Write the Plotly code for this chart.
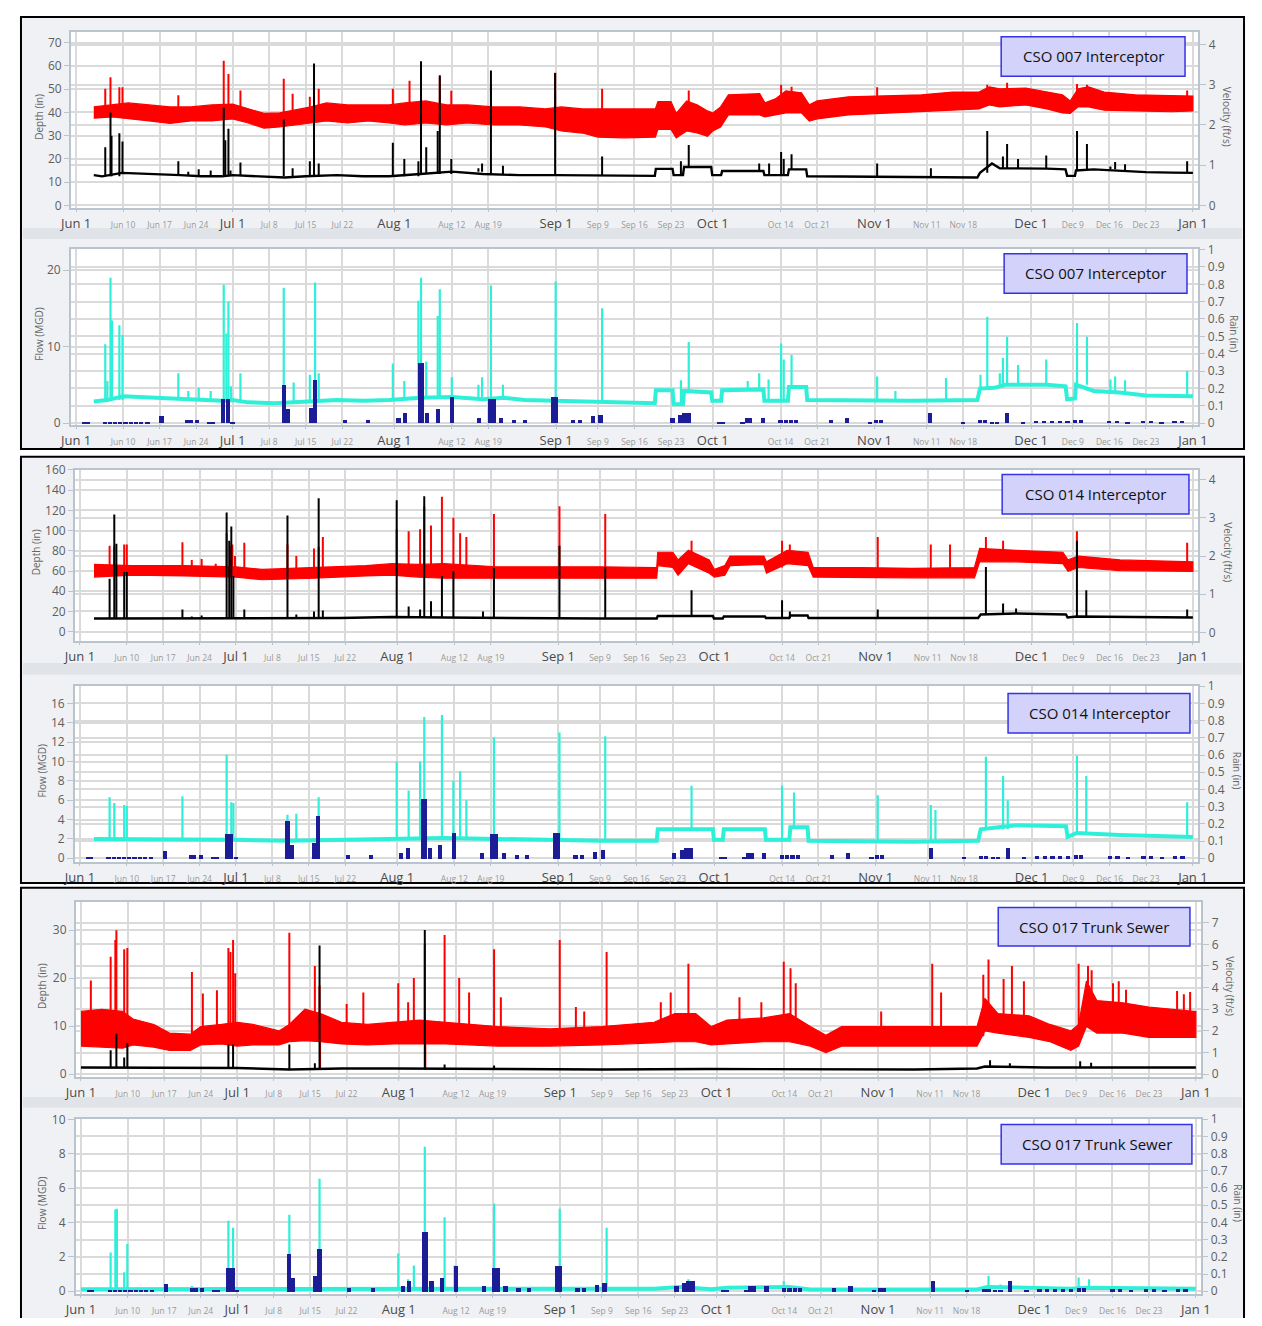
import numpy as np
import pandas as pd
import plotly.graph_objects as go

BASE = pd.Timestamp("2023-06-01")
# page is 1262x1326; the browser adds an 8px body margin, so the figure itself is 16px smaller
PAGE_W, PAGE_H, OFF = 1262, 1326, 8
W, H = PAGE_W - 2 * OFF, PAGE_H - 2 * OFF

# ---------------- tick labels ----------------
tick_dates = ["2023-06-01", "2023-06-10", "2023-06-17", "2023-06-24", "2023-07-01", "2023-07-08",
              "2023-07-15", "2023-07-22", "2023-08-01", "2023-08-12", "2023-08-19", "2023-09-01",
              "2023-09-09", "2023-09-16", "2023-09-23", "2023-10-01", "2023-10-14", "2023-10-21",
              "2023-11-01", "2023-11-11", "2023-11-18", "2023-12-01", "2023-12-09", "2023-12-16",
              "2023-12-23", "2024-01-01"]
tick_labels = ["Jun 1", "Jun 10", "Jun 17", "Jun 24", "Jul 1", "Jul 8", "Jul 15", "Jul 22", "Aug 1",
               "Aug 12", "Aug 19", "Sep 1", "Sep 9", "Sep 16", "Sep 23", "Oct 1", "Oct 14", "Oct 21",
               "Nov 1", "Nov 11", "Nov 18", "Dec 1", "Dec 9", "Dec 16", "Dec 23", "Jan 1"]
month_dates = ["2023-06-01", "2023-07-01", "2023-08-01", "2023-09-01", "2023-10-01", "2023-11-01",
               "2023-12-01", "2024-01-01"]

# ---------------- data (day offset from Jun 1, value) ----------------
# shared rain gauge (in)
rain = [(1.5, 0.008), (2.2, 0.008), (5.5, 0.008), (6.5, 0.008), (7.5, 0.008), (8.5, 0.008), (9.5, 0.008),
        (10.5, 0.008), (11.5, 0.008), (12.5, 0.008), (13.7, 0.008), (16.4, 0.042), (21.3, 0.02), (22.0, 0.02),
        (23.2, 0.02), (25.6, 0.01), (26.3, 0.01), (28.2, 0.14), (29.1, 0.14), (30.0, 0.01), (39.9, 0.22),
        (40.7, 0.08), (45.0, 0.09), (45.8, 0.25), (51.5, 0.02), (56.0, 0.02), (61.8, 0.03), (63.0, 0.06),
        (65.9, 0.345), (66.3, 0.345), (67.3, 0.06), (69.3, 0.08), (72.0, 0.15), (77.3, 0.03), (79.3, 0.14),
        (80.0, 0.14), (81.5, 0.03), (84.0, 0.02), (86.0, 0.02), (91.4, 0.15), (92.0, 0.15), (95.3, 0.02),
        (96.5, 0.02), (99.0, 0.04), (100.5, 0.05), (114.3, 0.03), (115.8, 0.05), (116.6, 0.06),
        (117.4, 0.06), (123.2, 0.01), (124.0, 0.01), (127.7, 0.01), (128.5, 0.03), (129.2, 0.03),
        (131.6, 0.03), (135.0, 0.02), (136.0, 0.02), (137.0, 0.02), (138.0, 0.02), (144.6, 0.02),
        (147.7, 0.03), (152.2, 0.01), (153.3, 0.02), (154.2, 0.02), (163.6, 0.06), (170.0, 0.01),
        (173.3, 0.017), (174.2, 0.017), (175.5, 0.01), (176.5, 0.01), (178.4, 0.06), (181.5, 0.01),
        (184.0, 0.015), (185.5, 0.015), (187.0, 0.015), (188.5, 0.015), (190.0, 0.015), (191.5, 0.02),
        (192.5, 0.02), (198.0, 0.015), (199.5, 0.015), (201.5, 0.01), (204.5, 0.015), (206.0, 0.015),
        (208.0, 0.01), (210.5, 0.015), (212.0, 0.015)]

# ---- CSO 007 Interceptor ----
depth_007 = [(3.4, 13), (5, 12.5), (8.8, 14), (12, 13.8), (16, 13.5), (20, 13), (24, 12.5), (28, 12.5),
             (30, 13), (35, 12.5), (40, 12), (44, 12.5), (50, 13), (55, 12.5), (60, 12.5), (66, 13.5),
             (72, 14.5), (78, 13.5), (85, 13), (92, 13), (100, 13), (110.9, 12.7), (111.1, 15.7),
             (114.3, 15.7), (114.5, 13), (116.3, 13), (116.5, 16.5), (121.7, 16.5), (121.9, 13),
             (123.6, 13), (123.8, 14.8), (131.7, 14.8), (131.9, 13), (136.4, 13), (136.6, 15.5),
             (139.9, 15.5), (140.1, 12.5), (150, 12.3), (160, 12), (172.7, 12), (173.2, 14), (175.5, 18),
             (177, 16), (182, 16), (186, 15.8), (189.6, 15.5), (189.9, 12.7), (191.4, 12.7), (191.6, 15),
             (195, 15.5), (200, 14.8), (205, 14.3), (210, 14.1), (214, 14)]
depth_007_peaks = [(5.6, 25), (6.6, 40), (6.8, 30), (8.3, 31), (8.9, 27.5), (19.6, 19), (21.5, 14.5),
                   (23.5, 15.5), (25.8, 15), (28.3, 42), (28.6, 28), (29.2, 33), (29.6, 15), (31.5, 18.5),
                   (39.8, 37), (41.5, 16), (44.8, 19), (45.6, 61), (46.5, 18), (60.7, 27), (62.9, 20),
                   (65.6, 19), (66.1, 62), (67.1, 25), (69.3, 32), (69.7, 56), (71.9, 20), (77.1, 16),
                   (77.8, 18), (79.5, 58), (81.8, 17), (91.8, 57), (100.8, 21), (115.9, 19), (117.4, 26),
                   (130.9, 18), (132.8, 18), (135.1, 23), (135.6, 20), (137.1, 22), (153.5, 18), (163.8, 16),
                   (174.6, 32), (177.6, 21), (178.4, 26.4), (180.5, 20), (185.9, 21.5), (191.8, 32),
                   (193.7, 26.4), (198.2, 16.7), (199.1, 18.7), (201.0, 17.7), (212.9, 19)]
velocity_007 = [(3.4, 2.17, 2.45), (7, 2.2, 2.5), (10, 2.15, 2.55), (14, 2.1, 2.5), (18, 2.04, 2.45),
                (22, 2.1, 2.45), (26, 2.1, 2.5), (30, 2.15, 2.52), (33, 2.05, 2.4), (36, 1.92, 2.29),
                (39, 1.95, 2.3), (42, 2.0, 2.38), (45, 2.05, 2.45), (48, 2.1, 2.55), (52, 2.05, 2.5),
                (56, 2.1, 2.5), (60, 2.05, 2.5), (63, 2.0, 2.55), (67, 2.05, 2.6), (71, 2.0, 2.5),
                (75, 2.05, 2.5), (80, 2.0, 2.45), (85, 2.0, 2.45), (90, 1.95, 2.4), (93, 1.85, 2.45),
                (97, 1.8, 2.4), (100, 1.7, 2.4), (105, 1.68, 2.41), (111, 1.7, 2.4), (111.5, 1.89, 2.58),
                (114, 1.89, 2.58), (115, 1.68, 2.29), (117, 1.85, 2.6), (119, 1.8, 2.5), (121, 1.72, 2.35),
                (122, 1.85, 2.3), (123.5, 1.95, 2.45), (125, 2.25, 2.75), (131, 2.25, 2.78),
                (132, 2.2, 2.55), (134, 2.25, 2.65), (136, 2.3, 2.85), (139, 2.3, 2.8), (140.5, 2.1, 2.5),
                (142, 2.15, 2.6), (148, 2.25, 2.7), (155, 2.3, 2.72), (162, 2.35, 2.75), (168, 2.37, 2.82),
                (173, 2.4, 2.82), (175, 2.5, 2.95), (177, 2.45, 2.9), (182, 2.5, 2.92), (186, 2.4, 2.82),
                (189, 2.3, 2.75), (190.5, 2.29, 2.6), (192, 2.45, 2.9), (194, 2.45, 2.95),
                (197, 2.37, 2.82), (203, 2.35, 2.75), (210, 2.33, 2.73), (214, 2.35, 2.72)]
velocity_007_peaks = [(5.6, 2.9), (6.6, 3.19), (8.3, 2.94), (8.9, 2.94), (19.6, 2.74), (28.3, 3.6),
                      (29.2, 3.27), (31.5, 2.86), (39.8, 3.15), (41.5, 2.78), (44.8, 2.7), (45.6, 3.07),
                      (46.5, 2.9), (60.7, 2.9), (63.9, 3.1), (66.1, 3.3), (69.7, 3.2), (71.9, 2.85),
                      (79.5, 3.0), (91.8, 3.3), (100.8, 2.9), (117.4, 2.86), (135.1, 3.0), (137.1, 2.95),
                      (153.5, 2.94), (174.6, 3.0), (178.4, 3.05), (191.8, 3.02), (193.7, 3.0), (212.9, 2.86)]
flow_007 = [(3.4, 2.8), (6, 3.0), (9, 3.5), (12, 3.4), (16, 3.2), (20, 3.1), (24, 3.0), (28, 2.9),
            (30, 3.0), (33, 2.7), (38, 2.6), (42, 2.7), (45, 2.9), (50, 3.0), (55, 2.9), (60, 3.0),
            (66, 3.3), (72, 3.4), (78, 3.1), (82, 3.3), (86, 3.0), (92, 2.9), (98, 2.8), (104, 2.7),
            (110.9, 2.6), (111.1, 4.3), (114.3, 4.3), (114.5, 2.45), (116.3, 2.45), (116.5, 4.2),
            (121.7, 4.0), (121.9, 2.9), (123.6, 2.9), (123.8, 4.3), (131.7, 4.4), (131.9, 2.9),
            (136.4, 2.9), (136.6, 4.7), (139.9, 4.7), (140.1, 3.0), (150, 2.9), (160, 2.9), (172.7, 3.0),
            (173.2, 4.5), (176, 4.6), (178, 5.0), (182, 5.0), (186, 5.0), (189.6, 4.8), (189.9, 3.1),
            (191.4, 3.2), (191.6, 5.0), (195, 4.2), (200, 4.0), (205, 3.6), (210, 3.5), (214, 3.5)]
flow_007_peaks = [(5.6, 10.3), (6.0, 5.5), (6.6, 19.0), (6.9, 13.4), (8.3, 12.8), (8.9, 11.5), (19.6, 6.5),
                  (21.5, 4.2), (23.5, 4.6), (25.8, 4.2), (28.3, 18.1), (28.8, 11.7), (29.2, 15.9),
                  (29.7, 4.8), (31.5, 6.5), (39.8, 17.7), (41.7, 5.3), (44.8, 6.3), (45.8, 18.4),
                  (46.5, 6.5), (60.7, 7.8), (62.9, 5.5), (65.6, 16), (66.1, 19), (67.1, 8), (69.3, 14),
                  (69.7, 17.5), (72.0, 6), (77.1, 5), (77.8, 6), (79.5, 18), (81.8, 5), (91.9, 18.5),
                  (100.8, 15), (115.9, 5.6), (117.4, 10.6), (128.7, 5.5), (130.9, 6.5), (132.7, 5.7),
                  (135.1, 10.4), (135.6, 8.3), (137.1, 8.9), (153.5, 6.1), (157.0, 4.2), (166.7, 5.9),
                  (173.3, 6.3), (174.6, 13.9), (177.0, 6.5), (177.6, 8.5), (178.4, 11.3), (180.5, 7.6),
                  (185.9, 8.3), (191.8, 13.1), (193.7, 11.3), (198.2, 5.7), (199.1, 6.1), (201.0, 5.6),
                  (212.9, 6.8)]

# ---- CSO 014 Interceptor ----
depth_014 = [(2.7, 13), (10, 13), (20, 13), (30, 13), (40, 13), (50, 13.5), (55, 14), (60, 14.5), (70, 14),
             (80, 13.5), (90, 13.5), (100, 13), (110.9, 13), (111.1, 15.5), (121.7, 15.5), (121.9, 13),
             (123.6, 13), (123.8, 15), (131.7, 15), (131.9, 13.5), (136.4, 13.5), (136.6, 16), (139.9, 16),
             (140.1, 13.5), (150, 13.5), (160, 13.5), (172.7, 13.5), (173.2, 17), (180, 18), (189.6, 17),
             (189.9, 14), (191.6, 15), (200, 14.5), (214, 14)]
depth_014_peaks = [(5.7, 52.5), (6.6, 116), (7.0, 87), (8.5, 59), (9.0, 59), (19.7, 22), (21.5, 15),
                   (23.4, 16), (26.1, 14), (28.2, 118), (28.7, 90), (29.1, 104), (29.5, 55), (31.6, 22),
                   (39.9, 115), (41.6, 17), (45.0, 20), (45.9, 132), (46.7, 21), (60.9, 130), (63.2, 25),
                   (65.4, 22), (66.2, 134), (67.5, 30), (69.6, 55), (71.8, 60), (77.5, 20), (79.6, 63),
                   (92.2, 85), (101.0, 64), (117.6, 41), (135.0, 31), (136.5, 20), (153.4, 22),
                   (174.2, 64), (177.5, 28), (180.0, 23), (191.7, 90), (193.5, 41), (212.9, 22)]
velocity_014 = [(2.7, 1.45, 1.78), (10, 1.5, 1.75), (20, 1.48, 1.75), (30, 1.45, 1.72), (35, 1.38, 1.65),
                (45, 1.42, 1.7), (55, 1.48, 1.75), (60, 1.5, 1.8), (65, 1.45, 1.78), (70, 1.42, 1.8),
                (80, 1.42, 1.72), (90, 1.42, 1.72), (100, 1.42, 1.72), (110.9, 1.42, 1.7),
                (111.1, 1.75, 2.1), (114, 1.7, 2.1), (115, 1.5, 1.9), (117, 1.8, 2.15), (121, 1.55, 1.9),
                (122, 1.45, 1.65), (124, 1.5, 1.75), (125, 1.75, 2.0), (131.5, 1.78, 2.0),
                (132, 1.55, 1.85), (136, 1.8, 2.15), (140, 1.75, 2.1), (141, 1.45, 1.7), (150, 1.45, 1.7),
                (160, 1.43, 1.68), (172, 1.43, 1.7), (173, 1.85, 2.2), (180, 1.85, 2.15),
                (189, 1.8, 2.1), (190, 1.6, 1.9), (192, 1.7, 2.0), (200, 1.62, 1.9), (214, 1.6, 1.85)]
velocity_014_peaks = [(5.7, 2.27), (6.6, 2.25), (8.5, 2.3), (9.0, 2.3), (19.7, 2.36), (21.5, 1.9),
                      (23.4, 1.92), (26.1, 1.8), (28.2, 2.6), (28.9, 2.27), (29.3, 2.3), (29.8, 2.0),
                      (31.6, 2.35), (39.9, 2.3), (41.6, 2.0), (45.0, 2.2), (45.9, 2.25), (46.7, 2.5),
                      (60.9, 2.7), (63.2, 2.65), (65.4, 2.7), (66.2, 3.3), (67.5, 2.8), (69.6, 3.55),
                      (71.8, 3.0), (73.1, 2.6), (74.3, 2.5), (79.6, 3.1), (92.2, 3.3), (101.0, 3.1),
                      (117.6, 2.4), (135.0, 2.4), (136.5, 2.3), (153.4, 2.5), (163.6, 2.3), (167.3, 2.3),
                      (174.2, 2.5), (177.5, 2.4), (191.7, 2.65), (212.9, 2.35)]
flow_014 = [(2.7, 2.0), (10, 2.0), (20, 1.9), (30, 1.9), (40, 1.8), (50, 1.9), (60, 2.0), (70, 2.1),
            (80, 2.0), (90, 1.9), (100, 1.8), (110.9, 1.8), (111.1, 3.0), (121.7, 3.0), (121.9, 1.9),
            (123.6, 1.9), (123.8, 3.0), (131.7, 3.0), (131.9, 1.9), (136.4, 1.9), (136.6, 3.2),
            (139.9, 3.2), (140.1, 1.8), (160, 1.7), (172.7, 1.8), (173.2, 3.0), (180, 3.4), (189.6, 3.3),
            (189.9, 2.2), (191.6, 2.6), (200, 2.4), (214, 2.2)]
flow_014_peaks = [(5.7, 6.3), (6.6, 5.7), (8.5, 5.5), (9.0, 5.4), (19.7, 6.4), (28.2, 10.7), (29.1, 5.8),
                  (29.5, 5.7), (39.9, 4.5), (41.6, 4.6), (45.9, 6.3), (60.9, 10), (63.2, 7), (65.4, 10),
                  (66.2, 14.6), (69.6, 14.8), (71.8, 8), (73.1, 9), (74.3, 6), (79.6, 12.5), (92.2, 13),
                  (101.0, 12.6), (117.6, 7.5), (135.0, 7.5), (137.3, 6.8), (153.4, 6.5), (163.6, 5.5),
                  (164.5, 5), (174.2, 10.5), (177.5, 8.5), (178.4, 6), (191.7, 10.6), (193.5, 8.5),
                  (212.9, 5.8)]

# ---- CSO 017 Trunk Sewer ----
depth_017 = [(0, 1.4), (20, 1.4), (30, 1.3), (40, 1.0), (50, 1.2), (60, 1.2), (80, 1.1), (100, 1.0),
             (120, 1.1), (150, 1.0), (160, 1.0), (172, 1.2), (173.5, 1.6), (185, 1.4), (200, 1.4), (214, 1.4)]
depth_017_peaks = [(5.7, 5), (6.8, 8.4), (8.3, 3.5), (8.9, 6.5), (28.3, 6.2), (29.2, 6.2), (40.0, 6.2),
                   (44.9, 2.3), (45.8, 26.8), (66.0, 30), (69.8, 2.0), (79.3, 1.8), (174.5, 2.9),
                   (178.3, 2.3), (191.8, 2.7), (193.9, 2.4)]
velocity_017 = [(0, 1.3, 2.9), (4, 1.25, 3.0), (8, 1.2, 2.9), (10, 1.35, 2.55), (14, 1.25, 2.3),
                (17, 1.1, 1.9), (21, 1.1, 1.85), (23, 1.35, 2.2), (27, 1.4, 2.3), (30, 1.3, 2.4),
                (33, 1.35, 2.3), (38, 1.35, 2.0), (40, 1.5, 2.3), (43, 1.55, 3.0), (46, 1.5, 2.8),
                (50, 1.4, 2.4), (55, 1.35, 2.3), (60, 1.4, 2.4), (65, 1.4, 2.5), (70, 1.4, 2.4),
                (80, 1.3, 2.2), (90, 1.3, 2.1), (100, 1.35, 2.2), (110, 1.45, 2.4), (114, 1.5, 2.8),
                (118, 1.5, 2.8), (121, 1.35, 2.2), (124, 1.4, 2.5), (131, 1.5, 2.6), (136, 1.5, 2.8),
                (140, 1.3, 2.2), (143, 1.0, 1.8), (146, 1.3, 2.2), (160, 1.3, 2.2), (172, 1.3, 2.2),
                (173.5, 2.0, 3.5), (176, 1.9, 2.8), (182, 1.7, 2.7), (186, 1.5, 2.3), (190, 1.1, 2.0),
                (191.5, 1.3, 2.3), (193, 2.2, 4.3), (195, 1.9, 3.4), (200, 1.9, 3.3), (205, 1.7, 3.1),
                (214, 1.7, 2.9)]
velocity_017_peaks = [(1.9, 4.33), (5.7, 5.43), (6.6, 6.2), (6.8, 6.65), (8.3, 5.77), (8.9, 5.83),
                      (21.3, 4.72), (23.4, 3.73), (26.1, 3.88), (28.3, 5.83), (28.7, 5.65), (29.2, 6.2),
                      (29.6, 4.66), (40.0, 6.54), (44.9, 5.0), (45.8, 4.1), (45.9, 0.2), (51.0, 3.24),
                      (54.2, 3.77), (60.9, 4.2), (62.8, 3.33), (63.9, 4.44), (66.0, 6.0), (66.1, 0.2),
                      (69.8, 6.43), (72.6, 4.44), (74.5, 3.77), (79.3, 5.77), (80.6, 3.55), (91.9, 6.2),
                      (95.0, 3.1), (96.6, 2.9), (100.9, 5.65), (111.3, 3.33), (113.2, 3.77), (116.6, 5.1),
                      (126.4, 3.55), (130.6, 3.33), (134.9, 5.2), (136.2, 4.9), (137.2, 4.2), (153.6, 2.9),
                      (163.4, 5.1), (165.1, 3.77), (173.2, 4.6), (174.2, 5.3), (177.1, 4.4), (178.7, 5.0),
                      (181.0, 4.3), (191.5, 5.1), (193.3, 5.0), (194.0, 4.8), (198.1, 4.2), (199.2, 4.3),
                      (200.6, 3.9), (210.4, 3.85), (211.7, 3.7), (212.9, 3.8)]
flow_017 = [(0, 0.12), (10, 0.12), (20, 0.1), (40, 0.1), (60, 0.1), (110, 0.15), (115, 0.25), (121, 0.12),
            (124, 0.2), (131, 0.2), (136, 0.25), (140, 0.1), (172, 0.1), (174, 0.25), (190, 0.15),
            (193, 0.2), (214, 0.15)]
flow_017_peaks = [(5.7, 2.25), (6.6, 4.75), (6.9, 4.8), (8.3, 1.1), (8.9, 2.75), (21.3, 0.3), (23.4, 0.25),
                  (28.3, 4.1), (28.8, 0.7), (29.2, 3.7), (40.0, 4.45), (44.9, 0.8), (45.8, 6.55),
                  (60.9, 2.2), (62.8, 0.7), (63.9, 1.5), (66.0, 8.4), (69.8, 4.3), (71.7, 1.5), (79.3, 5.1),
                  (91.9, 4.8), (100.9, 3.7), (115.5, 0.4), (116.6, 0.7), (134.9, 0.6), (163.4, 0.4),
                  (174.2, 0.9), (176.5, 0.4), (191.5, 0.8), (193.5, 0.7)]

sites = [
    dict(name="CSO 007 Interceptor", depth=depth_007, depth_pk=depth_007_peaks, vel=velocity_007,
         vel_pk=velocity_007_peaks, flow=flow_007, flow_pk=flow_007_peaks),
    dict(name="CSO 014 Interceptor", depth=depth_014, depth_pk=depth_014_peaks, vel=velocity_014,
         vel_pk=velocity_014_peaks, flow=flow_014, flow_pk=flow_014_peaks),
    dict(name="CSO 017 Trunk Sewer", depth=depth_017, depth_pk=depth_017_peaks, vel=velocity_017,
         vel_pk=velocity_017_peaks, flow=flow_017, flow_pk=flow_017_peaks),
]

# ---------------- layout geometry (page pixels) ----------------
blocks_px = [dict(jun1=65, jan1=1201, frame=(9, 447), sep=(223, 234),
                  top=(24, 203), bot=(244, 423),
                  rng_top=((-1.27, 74.7), (-0.074, 4.32)), rng_bot=((-0.3, 22.8), (-0.013, 1.005)),
                  dt_top=(10, 1), dt_bot=(10, 0.1),
                  box_top=(1006, 29, 1193, 69), box_bot=(1009, 249, 1195, 289),
                  ttl_top=(27, 1236), ttl_bot=(27, 1243)),
             dict(jun1=69, jan1=1201, frame=(455, 887), sep=(664, 676),
                  top=(468, 642), bot=(687, 866),
                  rng_top=((-9.5, 160.3), (-0.23, 4.26)), rng_bot=((-0.41, 17.84), (-0.023, 1.003)),
                  dt_top=(20, 1), dt_bot=(2, 0.1),
                  box_top=(1007, 473, 1197, 513), box_bot=(1013, 695, 1198, 735),
                  ttl_top=(24, 1237), ttl_bot=(30, 1246)),
             dict(jun1=70, jan1=1204, frame=(892, 1330), sep=(1104, 1115),
                  top=(906, 1084), bot=(1126, 1304),
                  rng_top=((-0.62, 35.9), (-0.137, 7.97)), rng_bot=((-0.17, 10.04), (-0.017, 1.003)),
                  dt_top=(10, 1), dt_bot=(2, 0.1),
                  box_top=(1003, 912, 1198, 951), box_bot=(1006, 1132, 1200, 1172),
                  ttl_top=(31, 1238), ttl_bot=(31, 1246))]


def px(x):
    return (x - OFF) / W


def py(y):
    return 1 - (y - OFF) / H


def to_date(d):
    return (BASE + pd.Timedelta(days=float(d))).strftime("%Y-%m-%d %H:%M")


def series(pairs):
    return [to_date(p[0]) for p in pairs], [p[1] for p in pairs]


def peaks_xy(peaks, base_days, base_vals):
    xs, ys = [], []
    for d, v in peaks:
        i = max(int(np.searchsorted(base_days, d, side="right")) - 1, 0)
        xd = to_date(d)
        xs += [xd, xd, None]
        ys += [base_vals[i], v, None]
    return xs, ys


def sfx(n):
    return "" if n == 1 else str(n)


RED, BLACK, CYAN, NAVY = "#ff0000", "#000000", "#2ef0d8", "#1c1c96"
GRID, FRAME, MONTH = "#dadada", "#b9c4cf", "#9c9c9c"
FONT = "Open Sans"

ticktext = [t if t.endswith(" 1") else f'<span style="font-size:8.5px;color:#9a9a9a">{t}</span>'
            for t in tick_labels]

fig = go.Figure()
layout = dict(width=W, height=H, margin=dict(l=0, r=0, t=0, b=0), paper_bgcolor="white",
              plot_bgcolor="white", showlegend=False, font=dict(family=FONT, color="#555"),
              bargap=0)
bg_shapes, fg_shapes, annotations = [], [], []
x_start = "2023-05-31 01:12"
x_end = "2024-01-02 01:12"

rain_x = [to_date(d) for d, _ in rain]
rain_y = [v for _, v in rain]

for b, (site, g) in enumerate(zip(sites, blocks_px)):
    ppd = (g["jan1"] - g["jun1"]) / 214.0
    x0 = g["jun1"] - 0.95 * ppd
    x1 = g["jan1"] + 1.05 * ppd
    # block frame & separator (drawn beneath the subplots)
    bg_shapes.append(dict(type="rect", xref="paper", yref="paper", x0=px(9), x1=px(1253),
                          y0=py(g["frame"][1]), y1=py(g["frame"][0]), fillcolor="#eff1f4",
                          line=dict(color="black", width=2), layer="below"))
    bg_shapes.append(dict(type="rect", xref="paper", yref="paper", x0=px(11), x1=px(1251),
                          y0=py(g["sep"][1]), y1=py(g["sep"][0]), fillcolor="#e0e4e8",
                          line=dict(width=0), layer="below"))
    for p, kind in enumerate(["top", "bot"]):
        k = 2 * b + p + 1
        yb, yo = 2 * k - 1, 2 * k
        top, bot = g[kind]
        # white plotting area
        bg_shapes.append(dict(type="rect", xref="paper", yref="paper", x0=px(x0), x1=px(x1),
                              y0=py(bot), y1=py(top), fillcolor="white", line=dict(width=0),
                              layer="below"))
        dom_y = [py(bot), py(top)]
        rng_l, rng_r = g["rng_" + kind]
        dt_l, dt_r = g["dt_" + kind]
        layout["xaxis" + sfx(k)] = dict(
            domain=[px(x0), px(x1)], range=[x_start, x_end], type="date", anchor="y" + sfx(yb),
            tickvals=tick_dates, ticktext=ticktext, tickfont=dict(size=13, color="#4a4a4a"),
            ticks="outside", ticklen=2, tickcolor=FRAME, showgrid=True, gridcolor=GRID, gridwidth=1.5,
            showline=True, linecolor=FRAME, linewidth=2, mirror=True, zeroline=False)
        common = dict(domain=dom_y, anchor="x" + sfx(k), showgrid=True, gridcolor=GRID, gridwidth=1.5,
                      zeroline=False, ticks="outside", ticklen=6, tickcolor=FRAME,
                      tickfont=dict(size=12, color="#5e5e5e"))
        if kind == "top":
            # base axis = velocity (right), overlay = depth (left, drawn on top)
            layout["yaxis" + sfx(yb)] = dict(common, side="right", range=list(rng_r), dtick=dt_r,
                                             showline=True, linecolor=FRAME, linewidth=2, mirror=True)
            layout["yaxis" + sfx(yo)] = dict(common, side="left", range=list(rng_l), dtick=dt_l,
                                             overlaying="y" + sfx(yb))
            vd = [to_date(v[0]) for v in site["vel"]]
            lo = [v[1] for v in site["vel"]]
            hi = [v[2] for v in site["vel"]]
            fig.add_trace(go.Scatter(x=vd + vd[::-1], y=hi + lo[::-1], fill="toself", fillcolor=RED,
                                     mode="lines", line=dict(color=RED, width=1.2),
                                     xaxis="x" + sfx(k), yaxis="y" + sfx(yb), hoverinfo="skip"))
            mids = [(a + c) / 2 for a, c in zip(lo, hi)]
            sx, sy = peaks_xy(site["vel_pk"], [v[0] for v in site["vel"]], mids)
            fig.add_trace(go.Scatter(x=sx, y=sy, mode="lines", line=dict(color=RED, width=2),
                                     xaxis="x" + sfx(k), yaxis="y" + sfx(yb), hoverinfo="skip"))
            bx, by = series(site["depth"])
            fig.add_trace(go.Scatter(x=bx, y=by, mode="lines", line=dict(color=BLACK, width=2.4),
                                     xaxis="x" + sfx(k), yaxis="y" + sfx(yo)))
            sx, sy = peaks_xy(site["depth_pk"], [d for d, _ in site["depth"]], by)
            fig.add_trace(go.Scatter(x=sx, y=sy, mode="lines", line=dict(color=BLACK, width=2),
                                     xaxis="x" + sfx(k), yaxis="y" + sfx(yo)))
            ttl_l, ttl_r = "Depth (in)", "Velocity (ft/s)"
        else:
            # base axis = flow (left), overlay = rain (right, drawn on top)
            layout["yaxis" + sfx(yb)] = dict(common, side="left", range=list(rng_l), dtick=dt_l,
                                             showline=True, linecolor=FRAME, linewidth=2, mirror=True)
            layout["yaxis" + sfx(yo)] = dict(common, side="right", range=list(rng_r), dtick=dt_r,
                                             overlaying="y" + sfx(yb))
            fx, fy = series(site["flow"])
            fig.add_trace(go.Scatter(x=fx, y=fy, mode="lines", line=dict(color=CYAN, width=4),
                                     xaxis="x" + sfx(k), yaxis="y" + sfx(yb)))
            sx, sy = peaks_xy(site["flow_pk"], [d for d, _ in site["flow"]], fy)
            fig.add_trace(go.Scatter(x=sx, y=sy, mode="lines", line=dict(color=CYAN, width=2.2),
                                     xaxis="x" + sfx(k), yaxis="y" + sfx(yb)))
            fig.add_trace(go.Bar(x=rain_x, y=rain_y, width=0.8 * 86400000,
                                 marker=dict(color=NAVY, line=dict(width=0)),
                                 xaxis="x" + sfx(k), yaxis="y" + sfx(yo)))
            ttl_l, ttl_r = "Flow (MGD)", "Rain (in)"
        # month lines
        for m in month_dates:
            fg_shapes.append(dict(type="line", xref="x" + sfx(k), yref="y" + sfx(yb) + " domain",
                                  x0=m, x1=m, y0=0, y1=1, line=dict(color=MONTH, width=1), layer="below"))
        # axis titles
        ymid = py((top + bot) / 2 - 3)
        tl, tr = g["ttl_" + kind]
        annotations.append(dict(text=ttl_l, xref="paper", yref="paper", x=px(tl), y=ymid, showarrow=False,
                                xanchor="center", yanchor="middle", textangle=-90,
                                font=dict(size=10, color="#666")))
        annotations.append(dict(text=ttl_r, xref="paper", yref="paper", x=px(tr), y=ymid, showarrow=False,
                                xanchor="center", yanchor="middle", textangle=90,
                                font=dict(size=10, color="#666")))
        # site label box
        bx0, by0, bx1, by1 = g["box_" + kind]
        fg_shapes.append(dict(type="rect", xref="paper", yref="paper", x0=px(bx0), x1=px(bx1), y0=py(by1),
                              y1=py(by0), fillcolor="#d2d2fa", line=dict(color="#3434e6", width=1.5),
                              layer="above"))
        annotations.append(dict(text=site["name"], xref="paper", yref="paper", x=px((bx0 + bx1) / 2),
                                y=py((by0 + by1) / 2), xanchor="center", yanchor="middle",
                                showarrow=False, font=dict(size=15, color="#111")))

layout["shapes"] = bg_shapes + fg_shapes
layout["annotations"] = annotations
fig.update_layout(**layout)
fig.write_html("out.html", config={"displayModeBar": False})
